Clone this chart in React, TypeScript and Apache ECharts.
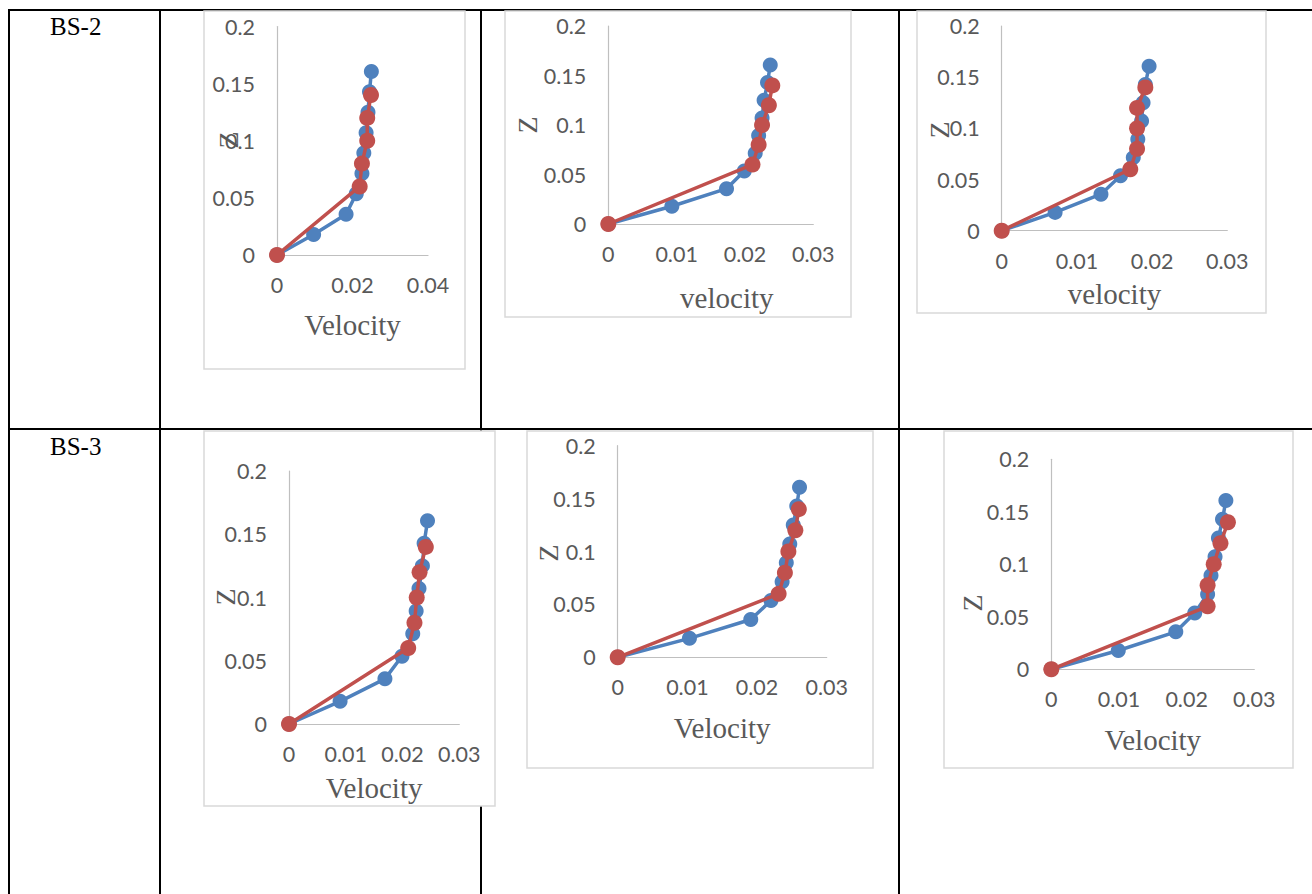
import { useEffect, useRef } from "react";
import * as echarts from "echarts";

// Depths (Z)
const blueDepth = [0, 0.0179, 0.0357, 0.0536, 0.0714, 0.0893, 0.1071, 0.125, 0.1429, 0.1607];
const redDepth = [0, 0.06, 0.08, 0.1, 0.12, 0.14];

// Velocities per panel
const bs2aBlue = [0, 0.0097, 0.0183, 0.021, 0.0225, 0.023, 0.0236, 0.0241, 0.0245, 0.025];
const bs2aRed = [0, 0.0219, 0.0225, 0.0239, 0.0239, 0.0249];
const bs2bBlue = [0, 0.0093, 0.0173, 0.0199, 0.0215, 0.022, 0.0225, 0.0228, 0.0233, 0.0237];
const bs2bRed = [0, 0.0211, 0.022, 0.0225, 0.0235, 0.024];
const bs2cBlue = [0, 0.0071, 0.0132, 0.0158, 0.0175, 0.0181, 0.0186, 0.0188, 0.0191, 0.0196];
const bs2cRed = [0, 0.0171, 0.018, 0.018, 0.018, 0.0191];
const bs3aBlue = [0, 0.009, 0.0169, 0.0199, 0.0218, 0.0224, 0.0229, 0.0235, 0.0238, 0.0244];
const bs3aRed = [0, 0.021, 0.0221, 0.0225, 0.023, 0.0241];
const bs3bBlue = [0, 0.0103, 0.0191, 0.022, 0.0236, 0.0242, 0.0247, 0.0252, 0.0257, 0.0261];
const bs3bRed = [0, 0.0231, 0.024, 0.0245, 0.0255, 0.026];
const bs3cBlue = [0, 0.0099, 0.0184, 0.0212, 0.0231, 0.0236, 0.0242, 0.0247, 0.0253, 0.0258];
const bs3cRed = [0, 0.0231, 0.0231, 0.024, 0.025, 0.0261];

const rowLabels = ["BS-2", "BS-3"];
const xTitles = ["Velocity", "velocity", "velocity", "Velocity", "Velocity", "Velocity"];
const yTitle = "Z";
const xMaxes = [0.04, 0.03, 0.03, 0.03, 0.03, 0.03];
const xIntervals = [0.02, 0.01, 0.01, 0.01, 0.01, 0.01];
const yMax = 0.2;
const yInterval = 0.05;

const panelData = [
  { blue: bs2aBlue, red: bs2aRed },
  { blue: bs2bBlue, red: bs2bRed },
  { blue: bs2cBlue, red: bs2cRed },
  { blue: bs3aBlue, red: bs3aRed },
  { blue: bs3bBlue, red: bs3bRed },
  { blue: bs3cBlue, red: bs3cRed },
];

// Layout (pixels)
const layouts = [
  { grid: { left: 277, top: 26.5, width: 151, height: 228.5 }, frame: [204, 11, 261, 358], zPos: [228, 140], nameGap: 55, namePadLeft: 0 },
  { grid: { left: 608.3, top: 26, width: 205, height: 198 }, frame: [505, 11, 346, 306], zPos: [527, 125], nameGap: 59, namePadLeft: 32 },
  { grid: { left: 1001.7, top: 26, width: 225.6, height: 204.7 }, frame: [917, 11, 349, 302], zPos: [939, 130], nameGap: 49, namePadLeft: 0 },
  { grid: { left: 289, top: 471, width: 170.3, height: 253 }, frame: [204, 431, 291, 375], zPos: [225, 597], nameGap: 49, namePadLeft: 0 },
  { grid: { left: 617.7, top: 445.7, width: 209, height: 211.6 }, frame: [527, 431, 346, 337], zPos: [548, 553], nameGap: 56, namePadLeft: 0 },
  { grid: { left: 1051.3, top: 459.3, width: 203, height: 210 }, frame: [944, 431, 349, 337], zPos: [972, 603], nameGap: 56, namePadLeft: 0 },
];

const BLUE = "#4F81BD";
const RED = "#C0504D";
const LABEL = "#595959";
const AXIS = "#BFBFBF";

export default function App() {
  const ref = useRef<HTMLDivElement>(null);
  useEffect(() => {
    if (!ref.current) return;
    const chart = echarts.init(ref.current, null, { renderer: "svg" });

    const tableLines = [
      [8, 10, 1312, 10],
      [8, 429, 1312, 429],
      [9, 10, 9, 894],
      [160, 10, 160, 894],
      [481, 10, 481, 894],
      [899, 10, 899, 894],
    ].map(([x1, y1, x2, y2]) => ({
      type: "line",
      shape: { x1, y1, x2, y2 },
      style: { stroke: "#000", lineWidth: 2 },
      z: 1,
    }));

    const frames = layouts.map((l) => ({
      type: "rect",
      shape: { x: l.frame[0], y: l.frame[1], width: l.frame[2], height: l.frame[3] },
      style: { fill: "#fff", stroke: "#D9D9D9", lineWidth: 1.5 },
      z: 2,
    }));

    const rowTexts = rowLabels.map((t, i) => ({
      type: "text",
      x: 50,
      y: i === 0 ? 26.5 : 446,
      style: { text: t, font: '25px "Liberation Serif"', fill: "#000", verticalAlign: "middle", align: "left" },
      z: 3,
    }));

    const zTexts = layouts.map((l) => ({
      type: "text",
      x: l.zPos[0],
      y: l.zPos[1],
      rotation: Math.PI / 2,
      style: { text: yTitle, font: '28px "Liberation Serif"', fill: LABEL, align: "center", verticalAlign: "middle" },
      z: 6,
    }));

    const grids = layouts.map((l) => ({ ...l.grid, containLabel: false }));

    const xAxes = layouts.map((l, i) => ({
      type: "value",
      gridIndex: i,
      min: 0,
      max: xMaxes[i],
      interval: xIntervals[i],
      name: xTitles[i],
      nameLocation: "middle",
      nameGap: l.nameGap,
      nameTextStyle: {
        fontFamily: "Liberation Serif",
        fontSize: 29,
        color: LABEL,
        padding: [0, 0, 0, l.namePadLeft],
      },
      axisLine: { show: true, lineStyle: { color: AXIS, width: 1.2 } },
      axisTick: { show: false },
      splitLine: { show: false },
      axisLabel: { color: LABEL, fontFamily: "Lato", fontSize: 21.5, margin: 19 },
      z: 5,
    }));

    const yAxes = layouts.map((l, i) => ({
      type: "value",
      gridIndex: i,
      min: 0,
      max: yMax,
      interval: yInterval,
      axisLine: { show: true, onZero: false, lineStyle: { color: AXIS, width: 1.2 } },
      axisTick: { show: false },
      splitLine: { show: false },
      axisLabel: { color: LABEL, fontFamily: "Lato", fontSize: 21.5, margin: 22 },
      z: 5,
    }));

    const series: any[] = [];
    panelData.forEach((p, i) => {
      series.push({
        type: "line",
        xAxisIndex: i,
        yAxisIndex: i,
        data: p.blue.map((v, k) => [v, blueDepth[k]]),
        symbol: "circle",
        symbolSize: 15,
        lineStyle: { color: BLUE, width: 3.5 },
        itemStyle: { color: BLUE },
        z: 10,
      });
      series.push({
        type: "line",
        xAxisIndex: i,
        yAxisIndex: i,
        data: p.red.map((v, k) => [v, redDepth[k]]),
        symbol: "circle",
        symbolSize: 16,
        lineStyle: { color: RED, width: 3.5 },
        itemStyle: { color: RED },
        z: 11,
      });
    });

    chart.setOption({
      animation: false,
      backgroundColor: "#fff",
      grid: grids,
      xAxis: xAxes,
      yAxis: yAxes,
      series,
      graphic: [...tableLines, ...frames, ...rowTexts, ...zTexts],
    });
    return () => chart.dispose();
  }, []);
  return (
    <div
      ref={ref}
      style={{ position: "absolute", left: 0, top: 0, width: 1312, height: 894 }}
    />
  );
}
